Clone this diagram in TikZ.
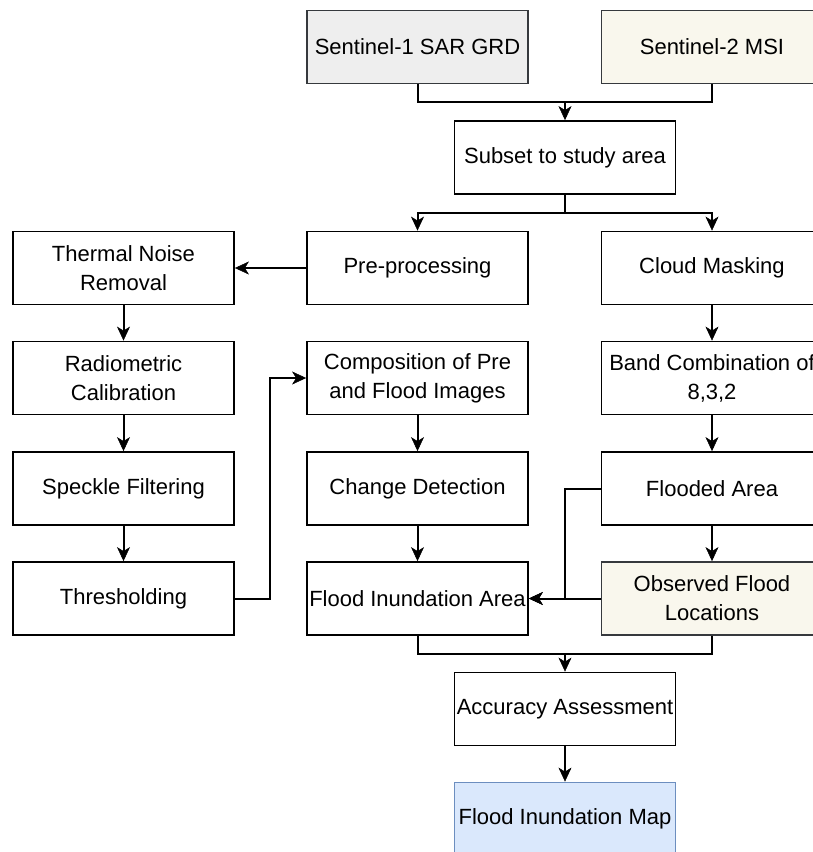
\documentclass[tikz,border=0pt]{standalone}
\usepackage{fontspec}
\setmainfont{Liberation Sans}
\usetikzlibrary{arrows.meta}
\definecolor{sgray}{HTML}{EEEEEE}
\definecolor{sbeige}{HTML}{F9F7ED}
\definecolor{sblue}{HTML}{DAE8FC}
\definecolor{sbluedraw}{HTML}{6C8EBF}
\definecolor{sdraw}{HTML}{36393D}
\tikzset{
  box/.style={draw=black, line width=1.8pt, fill=white, minimum width=221pt, minimum height=73pt,
    inner sep=0pt, align=center, font=\fontsize{22pt}{29pt}\selectfont},
  graybox/.style={box, fill=sgray, draw=sdraw},
  beigebox/.style={box, fill=sbeige, draw=sdraw},
  bluebox/.style={box, fill=sblue, draw=sbluedraw},
  conn/.style={line width=2pt, draw=black},
  arr/.style={conn, -{Stealth[length=14pt, width=13pt, inset=4pt, line width=0.5pt]}},
}
\begin{document}
\begin{tikzpicture}[x=1pt, y=-1pt]
\useasboundingbox (0,0) rectangle (813,852);
\fill[white] (0,0) rectangle (813,852);
\begin{scope}
\clip (0,0) rectangle (813,852);
% nodes
\node[graybox]  (s1)   at (417.5,47)  {Sentinel-1 SAR GRD};
\node[beigebox] (s2)   at (712,47)    {Sentinel-2 MSI};
\node[box]      (sub)  at (565,157.5) {Subset to study area};
\node[box]      (tnr)  at (123.5,268) {Thermal Noise\\Removal};
\node[box]      (pre)  at (417.5,268) {Pre-processing};
\node[box]      (cld)  at (712,268)   {Cloud Masking};
\node[box]      (rad)  at (123.5,378) {Radiometric\\Calibration};
\node[box]      (comp) at (417.5,378) {Composition of Pre\\and Flood Images};
\node[box]      (band) at (712,378)   {Band Combination of\\8,3,2};
\node[box]      (spk)  at (123.5,488.5) {Speckle Filtering};
\node[box]      (chg)  at (417.5,488.5) {Change Detection};
\node[box]      (fld)  at (712,488.5)   {Flooded Area};
\node[box]      (thr)  at (123.5,598.5) {Thresholding};
\node[box]      (fia)  at (417.5,598.5) {Flood Inundation Area};
\node[beigebox] (obs)  at (712,598.5)   {Observed Flood\\Locations};
\node[box]      (acc)  at (565,709)     {Accuracy Assessment};
\node[bluebox]  (map)  at (565,819)     {Flood Inundation Map};
% connectors
\coordinate (j1) at (565,102);
\coordinate (j2) at (565,213);
\coordinate (j3) at (270,598.5);
\coordinate (j4) at (565,488.5);
\coordinate (j5) at (565,654);
\draw[conn] (s1.south) |- (j1);
\draw[conn] (s2.south) |- (j1);
\draw[arr] (j1) -- (sub.north);
\draw[conn] (sub.south) -- (j2);
\draw[arr] (j2) -| (pre.north);
\draw[arr] (j2) -| (cld.north);
\draw[arr] (pre.west) -- (tnr.east);
\draw[arr] (tnr.south) -- (rad.north);
\draw[arr] (rad.south) -- (spk.north);
\draw[arr] (spk.south) -- (thr.north);
\draw[arr] (thr.east) -- (j3) |- (comp.west);
\draw[arr] (comp.south) -- (chg.north);
\draw[arr] (chg.south) -- (fia.north);
\draw[arr] (cld.south) -- (band.north);
\draw[arr] (band.south) -- (fld.north);
\draw[arr] (fld.south) -- (obs.north);
\draw[arr] (fld.west) -- (j4) |- (fia.east);
\draw[arr] (obs.west) -- (fia.east);
\draw[conn] (fia.south) |- (j5);
\draw[conn] (obs.south) |- (j5);
\draw[arr] (j5) -- (acc.north);
\draw[arr] (acc.south) -- (map.north);
\end{scope}
\end{tikzpicture}
\end{document}
